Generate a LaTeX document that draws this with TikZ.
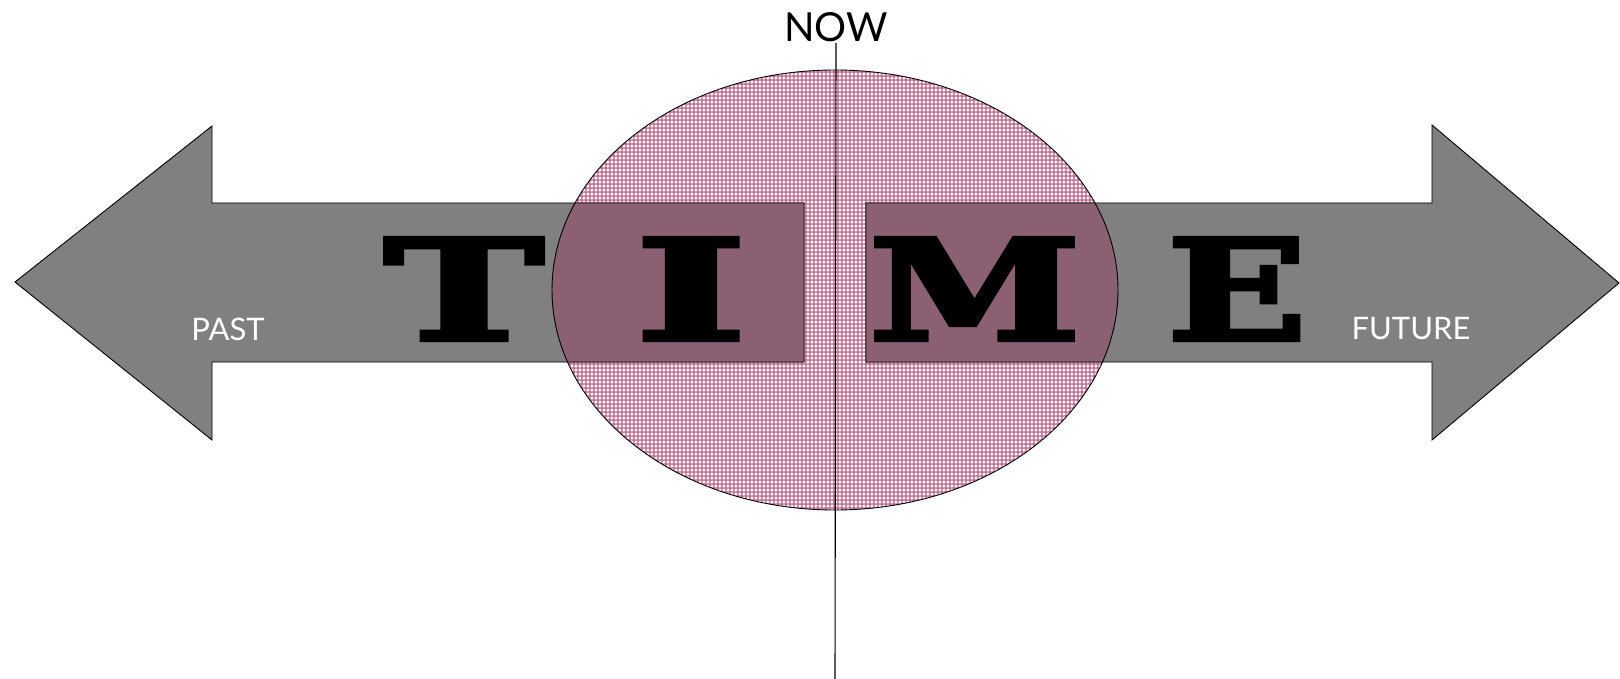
\documentclass[tikz,border=0pt]{standalone}
\usepackage{fontspec}
\usepackage{graphicx}
\setmainfont{DejaVu Serif}
\newfontfamily\heavyfont[FakeBold=3]{DejaVu Serif Bold}
\newfontfamily\labelfont{Lato}
\usetikzlibrary{patterns}
\definecolor{arrowgray}{HTML}{808080}
\definecolor{mauve}{HTML}{8A6072}
\definecolor{pinkc}{HTML}{C26E92}
\pgfdeclarepatterninherentlycolored{pinkcheck}{\pgfpointorigin}{\pgfpoint{4.4pt}{4.4pt}}{\pgfpoint{4.4pt}{4.4pt}}{%
  \pgfsetfillcolor{pinkc}%
  \pgfpathrectangle{\pgfpointorigin}{\pgfpoint{4.4pt}{4.4pt}}\pgfusepath{fill}%
  \pgfsetfillcolor{white}%
  \pgfpathmoveto{\pgfpoint{2.2pt}{0.35pt}}\pgfpathlineto{\pgfpoint{4.05pt}{2.2pt}}\pgfpathlineto{\pgfpoint{2.2pt}{4.05pt}}\pgfpathlineto{\pgfpoint{0.35pt}{2.2pt}}\pgfpathclose\pgfusepath{fill}%
}
\tikzset{
  arrowshape/.style={fill=arrowgray, draw=black, line width=0.9pt, line join=miter},
  overlapshape/.style={fill=mauve, draw=black!80!mauve, line width=0.9pt},
  bigletter/.style={inner sep=0pt, font=\heavyfont},
  smalllabel/.style={inner sep=0pt, text=white, font=\labelfont\fontsize{31}{31}\selectfont},
  nowlabel/.style={inner sep=1pt, text=black, font=\labelfont\fontsize{40}{40}\selectfont},
}
\begin{document}
\begin{tikzpicture}[x=1pt,y=-1pt]
\useasboundingbox (0,0) rectangle (1620,679);
% ellipse with pattern
\path[pattern=pinkcheck] (835,290) ellipse [x radius=283, y radius=220];
% arrows
\def\leftarrowpath{(15,282) -- (212,126) -- (212,203) -- (804,203) -- (804,362) -- (212,362) -- (212,440) -- cycle}
\def\rightarrowpath{(1619,283) -- (1432,125) -- (1432,203) -- (866,203) -- (866,362) -- (1432,362) -- (1432,440) -- cycle}
\path[arrowshape] \leftarrowpath;
\path[arrowshape] \rightarrowpath;
\begin{scope}
  \clip (835,290) ellipse [x radius=283, y radius=220];
  \path[overlapshape] \leftarrowpath;
  \path[overlapshape] \rightarrowpath;
\end{scope}
\draw[black, line width=0.9pt] (835,290) ellipse [x radius=283, y radius=220];
% NOW and line
\node[nowlabel] (now) at (836,27) {NOW};
\coordinate (lineend) at (835,679);
\draw[black, line width=1.1pt] (now.south) -- (lineend);
% letters
\node[bigletter] (T) at (464,289) {\resizebox{160pt}{102pt}{T}};
\node[bigletter] (I) at (691,289) {\resizebox{112pt}{102pt}{I}};
\node[bigletter] (M) at (975,289) {\resizebox{212pt}{102pt}{M}};
\node[bigletter] (E) at (1237,289) {\resizebox{140pt}{102pt}{E}};
% labels
\node[smalllabel] (past) at (228,329) {PAST};
\node[smalllabel] (future) at (1411,329) {FUTURE};
\end{tikzpicture}
\end{document}
